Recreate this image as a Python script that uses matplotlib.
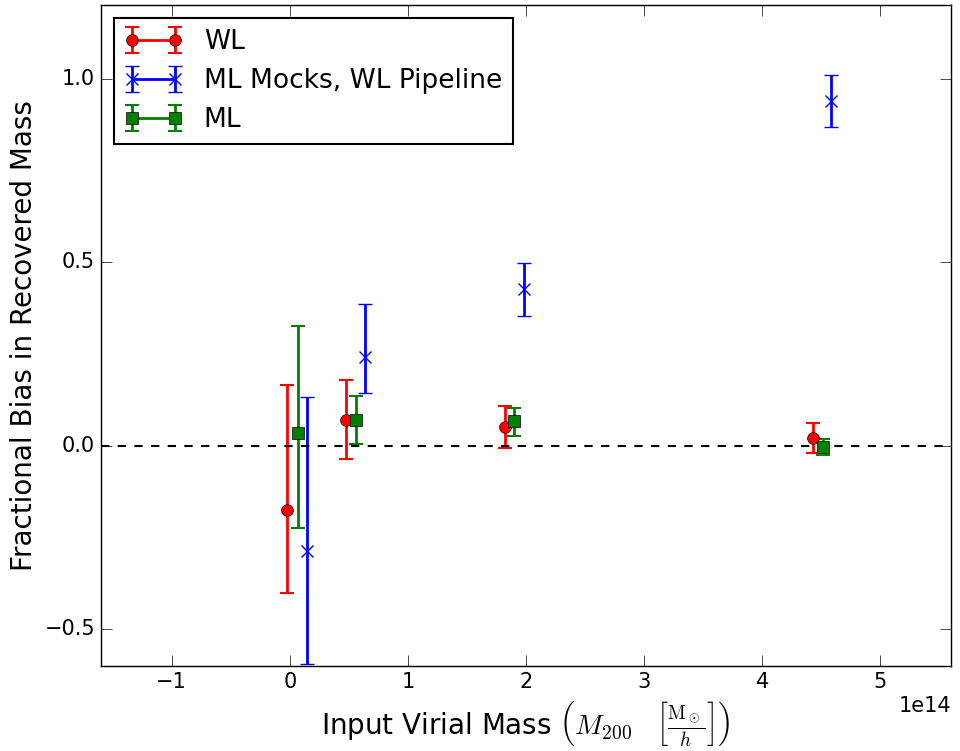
import matplotlib
matplotlib.use('Agg')
import matplotlib.pyplot as plt
import numpy as np

plt.style.use('classic')

# WL
wl_x = [-0.02e14, 0.475e14, 1.82e14, 4.43e14]
wl_y = [-0.175, 0.071, 0.052, 0.022]
wl_lo = [0.225, 0.107, 0.057, 0.041]
wl_hi = [0.342, 0.107, 0.057, 0.041]

# ML mocks through WL pipeline
mock_x = [0.144e14, 0.636e14, 1.98e14, 4.585e14]
mock_y = [-0.287, 0.243, 0.426, 0.940]
mock_lo = [0.306, 0.098, 0.072, 0.071]
mock_hi = [0.421, 0.142, 0.072, 0.071]

# ML
ml_x = [0.068e14, 0.56e14, 1.90e14, 4.51e14]
ml_y = [0.036, 0.071, 0.068, -0.002]
ml_lo = [0.26, 0.066, 0.040, 0.024]
ml_hi = [0.29, 0.066, 0.036, 0.022]

fig = plt.figure(figsize=(9.6, 7.51), dpi=100, facecolor='white')
ax = fig.add_axes([0.105, 0.113, 0.886, 0.880])

e1 = ax.errorbar(wl_x, wl_y, yerr=[wl_lo, wl_hi], fmt='o-', color='red', mfc='red', mec='black',
                 ms=8.5, elinewidth=2, capsize=5, capthick=1.5, lw=2, label='WL')
e2 = ax.errorbar(mock_x, mock_y, yerr=[mock_lo, mock_hi], fmt='x-', color='blue', mec='blue',
                 ms=9, mew=1, elinewidth=2, capsize=5, capthick=1.5, lw=2, label='ML Mocks, WL Pipeline')
e3 = ax.errorbar(ml_x, ml_y, yerr=[ml_lo, ml_hi], fmt='s-', color='green', mfc='green', mec='black',
                 ms=8.5, elinewidth=2, capsize=5, capthick=1.5, lw=2, label='ML')

ax.axhline(0, color='black', ls='--', lw=1.5)

ax.set_xlim(-1.6e14, 5.6e14)
ax.set_ylim(-0.6, 1.2)
ax.set_yticks([-0.5, 0.0, 0.5, 1.0])
ax.tick_params(labelsize=15, length=8)
ax.xaxis.get_offset_text().set_fontsize(15)

ax.set_xlabel(r'Input Virial Mass $\left(M_{200}\quad\left[\frac{\mathrm{M}_\odot}{h}\right]\right)$', fontsize=20)
ax.set_ylabel('Fractional Bias in Recovered Mass', fontsize=20)

leg = ax.legend(loc='upper left', numpoints=2, fontsize=19, handlelength=2.2)
leg.get_frame().set_linewidth(1.5)

# keep the connecting line in the legend only
for e in (e1, e2, e3):
    e[0].set_linestyle('none')

fig.savefig('out.png', dpi=100, facecolor='white')
